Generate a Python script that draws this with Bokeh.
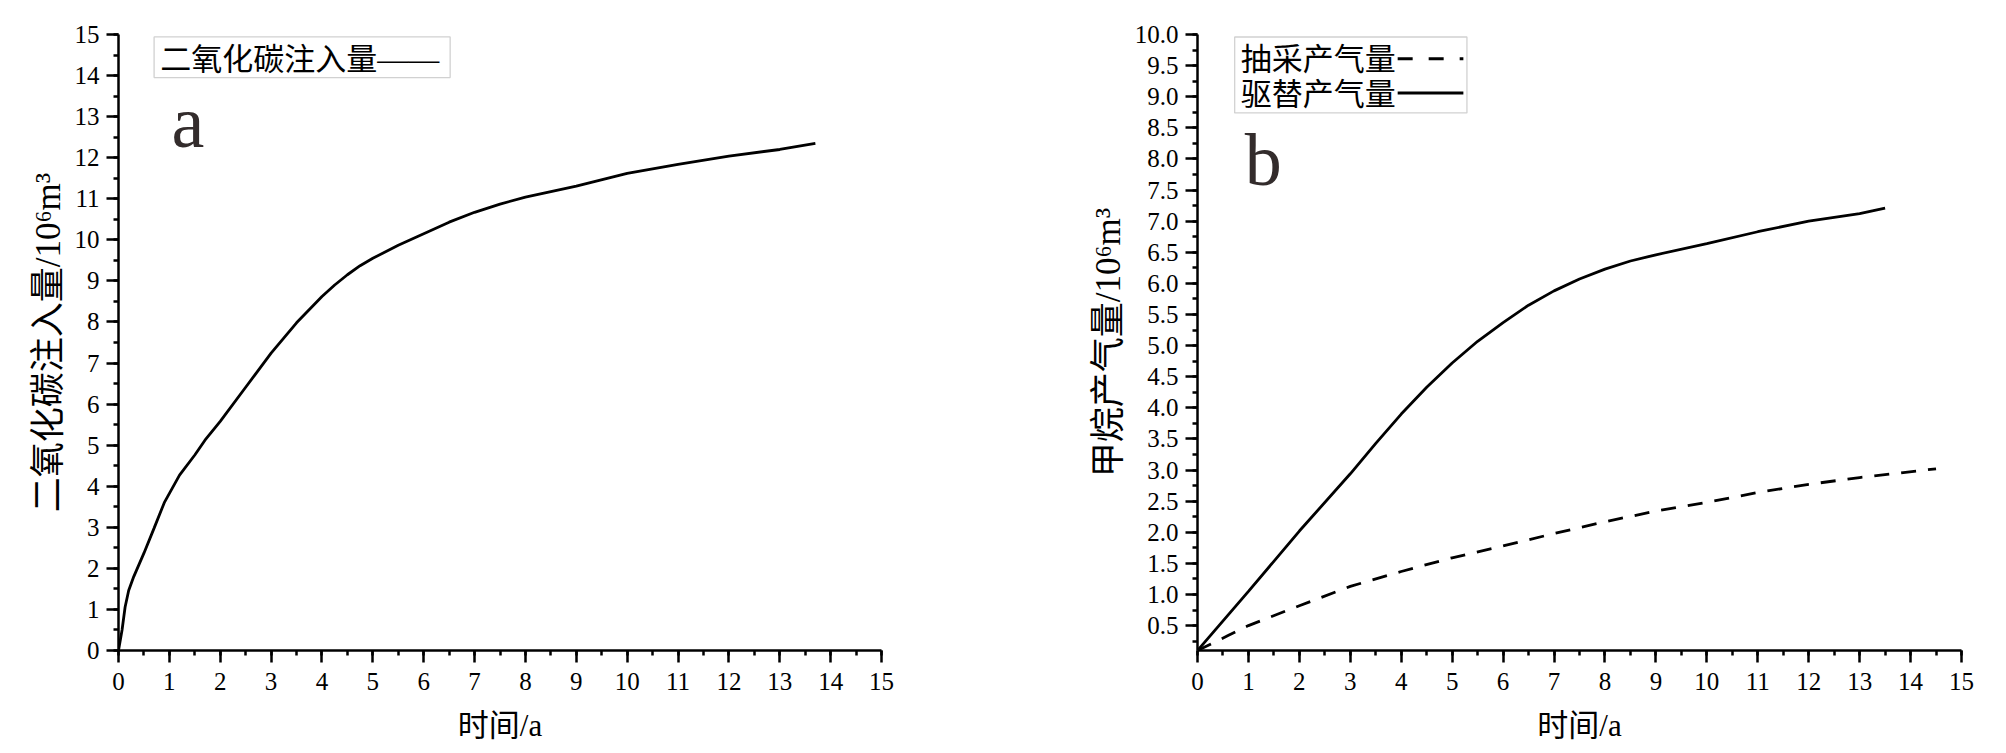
from bokeh.plotting import figure
from bokeh.models import (Range1d, SingleIntervalTicker, NumeralTickFormatter,
                          Label, BoxAnnotation, Arrow)
from bokeh.layouts import row
from bokeh.embed import file_html
from bokeh.resources import INLINE

# ---------------- data ----------------
# panel a: CO2 injection
t_co2 = [0, 0.07, 0.13, 0.2, 0.3, 0.5, 0.7, 0.9, 1.2, 1.5, 1.7, 2, 2.5, 3, 3.5,
         4, 4.25, 4.5, 4.75, 5, 5.5, 6, 6.5, 7, 7.5, 8, 9, 10, 11, 12, 13, 13.7]
v_co2 = [0, 0.5, 1.06, 1.46, 1.8, 2.37, 2.98, 3.6, 4.27, 4.76, 5.12, 5.58, 6.41,
         7.24, 7.98, 8.62, 8.9, 9.15, 9.37, 9.55, 9.87, 10.15, 10.43, 10.67,
         10.87, 11.04, 11.31, 11.62, 11.84, 12.04, 12.2, 12.35]

# panel b: methane production
t_drive = [0, 1, 2, 3, 3.5, 4, 4.5, 5, 5.5, 6, 6.5, 7, 7.5, 8, 8.5, 9, 10, 11,
           12, 13, 13.5]
v_drive = [0.1, 1.05, 2.02, 2.94, 3.43, 3.9, 4.33, 4.72, 5.07, 5.37, 5.65, 5.88,
           6.07, 6.23, 6.36, 6.46, 6.64, 6.83, 7.0, 7.12, 7.21]
t_drain = [0, 0.6, 1, 2, 3, 4, 5, 6, 7, 8, 9, 10, 11, 12, 13, 14.5]
v_drain = [0.1, 0.34, 0.5, 0.82, 1.13, 1.37, 1.59, 1.78, 1.98, 2.17, 2.34,
           2.48, 2.64, 2.77, 2.88, 3.02]

x_title = "时间/a"
y_title_a = "二氧化碳注入量/10⁶m³"
y_title_b = "甲烷产气量/10⁶m³"
legend_a = "二氧化碳注入量——"
legend_b1 = "抽采产气量"
legend_b2 = "驱替产气量"

SERIF = "Liberation Serif"
MIXED = "'Liberation Serif', 'Noto Sans CJK SC'"
DASH = "15 12"
LW = 2.8


def style(p, ytick_interval, yfmt=None):
    p.outline_line_color = None
    p.xgrid.visible = False
    p.ygrid.visible = False
    p.background_fill_color = "white"
    p.border_fill_color = "white"
    p.xaxis.ticker = SingleIntervalTicker(interval=1, num_minor_ticks=2)
    p.yaxis.ticker = SingleIntervalTicker(interval=ytick_interval, num_minor_ticks=2)
    if yfmt:
        p.yaxis.formatter = NumeralTickFormatter(format=yfmt)
    for ax in (p.xaxis, p.yaxis):
        ax.axis_line_width = 2.5
        ax.axis_line_color = "black"
        ax.major_tick_line_width = 2.5
        ax.minor_tick_line_width = 2.5
        ax.major_tick_line_color = "black"
        ax.minor_tick_line_color = "black"
        ax.major_tick_out = 12
        ax.major_tick_in = 0
        ax.minor_tick_out = 5
        ax.minor_tick_in = 0
        ax.major_label_text_font = SERIF
        ax.major_label_text_color = "black"
        ax.major_label_text_font_size = "25px"
        ax.axis_label_text_font = MIXED
        ax.axis_label_text_font_style = "normal"
        ax.axis_label_text_color = "black"
    p.xaxis.axis_label_text_font_size = "31px"
    p.yaxis.axis_label_text_font_size = "35px"
    p.xaxis.major_label_standoff = 10
    p.yaxis.major_label_standoff = 7
    p.xaxis.axis_label_standoff = 15
    p.yaxis.axis_label_standoff = 4


# ---------------- panel a ----------------
pa = figure(width=1000, height=745, output_backend="svg", toolbar_location=None,
            x_range=Range1d(0, 15), y_range=Range1d(0, 15),
            min_border_left=118, min_border_right=119,
            min_border_top=34, min_border_bottom=95,
            x_axis_label=x_title, y_axis_label=y_title_a)
style(pa, 1)
pa.line(t_co2, v_co2, line_color="black", line_width=LW)

pa.add_layout(BoxAnnotation(left=0.70, right=6.52, bottom=13.95, top=14.94,
                            fill_alpha=0, line_color="#666666", line_width=1.3))
pa.add_layout(Label(x=0.82, y=14.40, text=legend_a, text_font=MIXED,
                    text_font_size="31px", text_baseline="middle",
                    text_color="black"))
pa.add_layout(Label(x=1.04, y=12.87, text="a", text_font=SERIF,
                    text_font_size="74px", text_baseline="alphabetic",
                    text_color="#332c2c"))

# ---------------- panel b ----------------
pb = figure(width=996, height=745, output_backend="svg", toolbar_location=None,
            x_range=Range1d(0, 15), y_range=Range1d(0.1, 10),
            min_border_left=197, min_border_right=35,
            min_border_top=34, min_border_bottom=95,
            x_axis_label=x_title, y_axis_label=y_title_b)
style(pb, 0.5, "0.0")
pb.line(t_drain, v_drain, line_color="black", line_width=LW, line_dash=DASH)
pb.line(t_drive, v_drive, line_color="black", line_width=LW)

pb.add_layout(BoxAnnotation(left=0.73, right=5.29, bottom=8.74, top=9.96,
                            fill_alpha=0, line_color="#666666", line_width=1.3))
pb.add_layout(Label(x=0.85, y=9.60, text=legend_b1, text_font=MIXED,
                    text_font_size="31px", text_baseline="middle",
                    text_color="black"))
pb.add_layout(Label(x=0.85, y=9.04, text=legend_b2, text_font=MIXED,
                    text_font_size="31px", text_baseline="middle",
                    text_color="black"))
pb.add_layout(Arrow(end=None, start=None, x_start=3.93, y_start=9.61,
                    x_end=5.22, y_end=9.61, line_width=LW,
                    line_color="black", line_dash="15 16"))
pb.add_layout(Arrow(end=None, start=None, x_start=3.93, y_start=9.06,
                    x_end=5.22, y_end=9.06, line_width=LW,
                    line_color="black"))
pb.add_layout(Label(x=0.93, y=7.98, text="b", text_font=SERIF,
                    text_font_size="74px", text_baseline="alphabetic",
                    text_color="#332c2c"))

layout = row(pa, pb)
open("out.html", "w").write(file_html(layout, INLINE))
